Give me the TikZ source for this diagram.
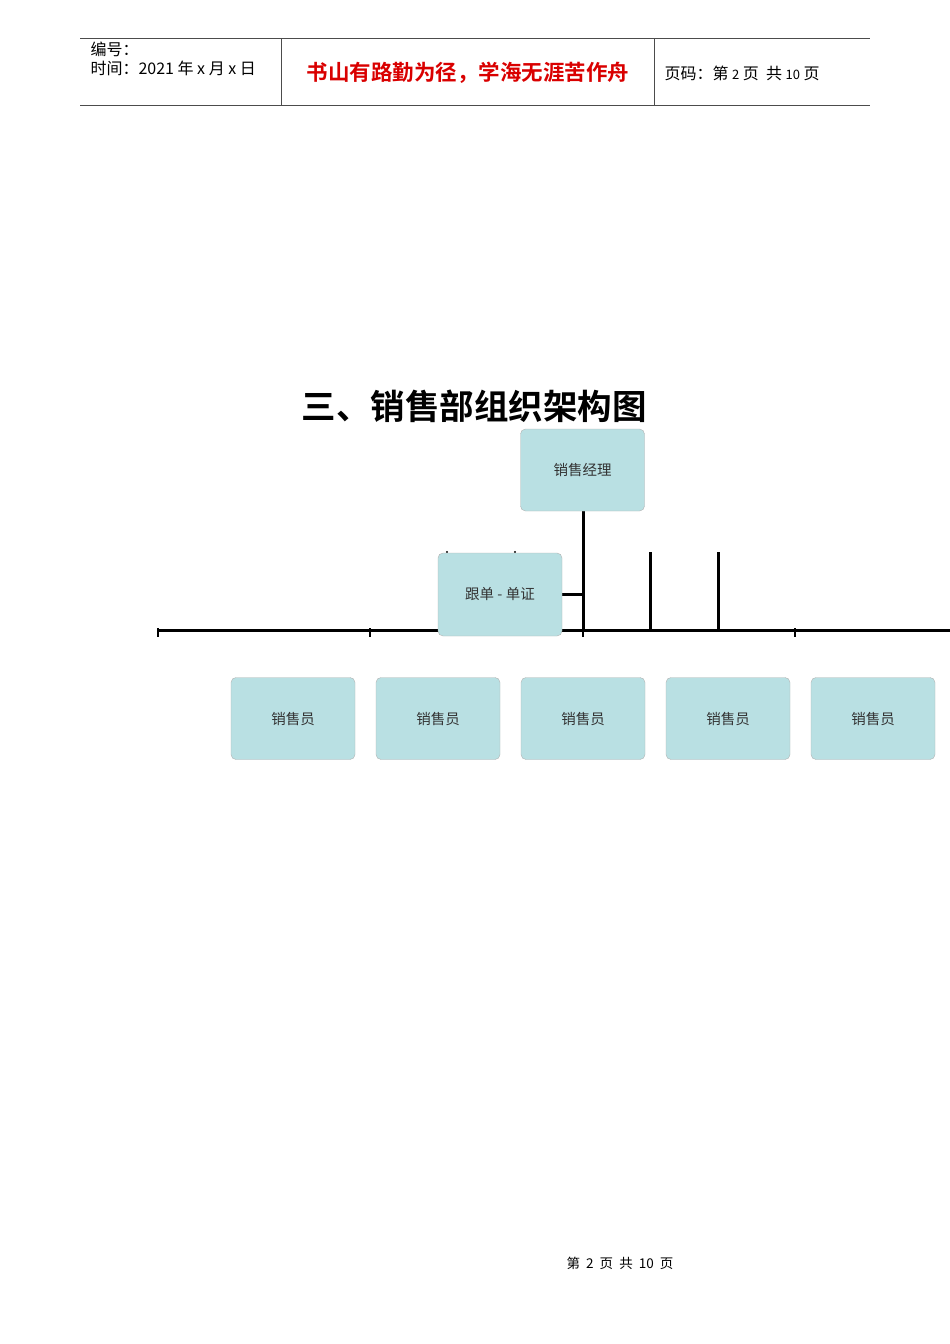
\documentclass[tikz,border=0pt]{standalone}
\usepackage{fontspec}
\setmainfont{Noto Sans CJK SC}
\newfontfamily\cjkb{Noto Sans CJK SC Bold}
\begin{document}
\begin{tikzpicture}[x=1pt,y=-1pt,
  box/.style={draw=gray!60,rounded corners=5pt,minimum width=124pt,minimum height=82pt,inner sep=0pt,font=\fontsize{14.5}{16}\selectfont,text=black!80},
  bar/.style={line width=3pt}]
\useasboundingbox (0,0) rectangle (950,1344);
\definecolor{bx}{RGB}{185,224,227}
\tikzset{box/.append style={fill=bx}}
% header
\draw[black!70,line width=0.8pt] (80,38) -- (870,38) (80,105) -- (870,105) (281,38) -- (281,105) (654,38) -- (654,105);
\node[anchor=west,font=\fontsize{16}{17}\selectfont] (h1) at (87,49) {编号：};
\node[anchor=west,font=\fontsize{16}{17}\selectfont] (h2) at (87,68) {时间：2021 年 x 月 x 日};
\node[text=red!85!black,font=\cjkb\fontsize{21.5}{23}\selectfont] (h3) at (468,73) {书山有路勤为径，学海无涯苦作舟};
\node[anchor=west,font=\fontsize{16}{17}\selectfont] (h4) at (661,73) {页码：第 {\fontsize{13}{14}\selectfont 2} 页\ \ 共 {\fontsize{13}{14}\selectfont 10} 页};
% title
\node[font=\cjkb\fontsize{34.5}{38}\selectfont] (t) at (474,406) {三、销售部组织架构图};
% lines
\draw[bar] (158,630) -- (950,630);
\foreach \x in {158,370,583,795} \draw[line width=2.5pt] (\x,628) -- (\x,637);
\draw[bar] (583,511) -- (583,630);
\draw[bar] (650,552) -- (650,630);
\draw[bar] (718,552) -- (718,630);
\draw[bar] (562,594) -- (583,594);
\fill (447,552) circle (1.2pt) (515,552) circle (1.2pt);
% boxes
\node[box] (m) at (582.5,470) {销售经理};
\node[box,minimum height=83pt] (f) at (500,594.5) {跟单 - 单证};
\foreach \x/\n in {293/s1,438/s2,583/s3,728/s4,873/s5}
  \node[box] (\n) at (\x,718.5) {销售员};
% footer
\node[font=\fontsize{13.5}{15}\selectfont] (ft) at (620,1263) {第\ \ 2\ \ 页\ \ 共\ \ 10\ \ 页};
\end{tikzpicture}
\end{document}
